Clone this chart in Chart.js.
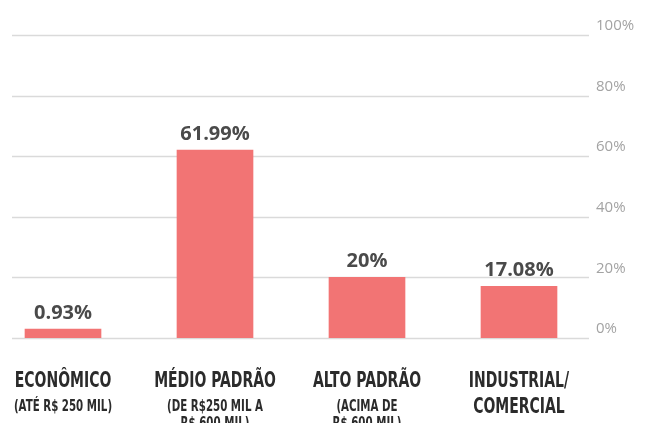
<!DOCTYPE html>
<html>
<head>
<meta charset="utf-8">
<script src="https://cdn.jsdelivr.net/npm/chart.js@4"></script>
<style>
  html, body { margin: 0; padding: 0; background: #fff; overflow: hidden; }
  #wrap { position: absolute; left: -13px; top: 0; width: 659px; height: 423px; }
</style>
</head>
<body>
<div id="wrap"><canvas id="shareChart"></canvas></div>
<script>
const categories = ['ECONÔMICO', 'MÉDIO PADRÃO', 'ALTO PADRÃO', 'INDUSTRIAL/ COMERCIAL'];
const titleLines = [['ECONÔMICO'], ['MÉDIO PADRÃO'], ['ALTO PADRÃO'], ['INDUSTRIAL/', 'COMERCIAL']];
const noteLines = [['(ATÉ R$ 250 MIL)'], ['(DE R$250 MIL A', 'R$ 600 MIL)'], ['(ACIMA DE', 'R$ 600 MIL)'], []];
const shares = [0.93, 61.99, 20, 17.08]; // percent
const tickValues = [0, 20, 40, 60, 80, 100];

const condensed = "'DejaVu Sans Condensed', 'DejaVu Sans', sans-serif";

// grid lines are shorter than the chart area, so they are drawn by hand
const gridLines = {
  id: 'gridLines',
  beforeDatasetsDraw(chart) {
    const { ctx, chartArea, scales } = chart;
    ctx.save();
    ctx.strokeStyle = '#dadada';
    ctx.lineWidth = 1.5;
    tickValues.forEach(v => {
      const y = Math.round(scales.y.getPixelForValue(v)) + 0.5;
      ctx.beginPath();
      ctx.moveTo(chartArea.left + 25, y);
      ctx.lineTo(chartArea.right - 6, y);
      ctx.stroke();
    });
    ctx.restore();
  }
};

const valueLabels = {
  id: 'valueLabels',
  afterDatasetsDraw(chart) {
    const { ctx } = chart;
    const meta = chart.getDatasetMeta(0);
    ctx.save();
    ctx.font = "bold 20px 'Open Sans', sans-serif";
    ctx.fillStyle = '#4a4a4a';
    ctx.textAlign = 'center';
    ctx.textBaseline = 'alphabetic';
    meta.data.forEach((bar, i) => {
      ctx.fillText(shares[i] + '%', bar.x, bar.y - 10);
    });
    ctx.restore();
  }
};

// squeezed text, the source uses a very narrow face
function narrowText(ctx, text, x, y, squeeze) {
  ctx.save();
  ctx.translate(x, y);
  ctx.scale(squeeze, 1);
  ctx.fillText(text, 0, 0);
  ctx.restore();
}

const categoryLabels = {
  id: 'categoryLabels',
  afterDraw(chart) {
    const { ctx, scales } = chart;
    ctx.save();
    ctx.textAlign = 'center';
    ctx.textBaseline = 'middle';
    ctx.fillStyle = '#2b2b2b';
    categories.forEach((c, i) => {
      const x = scales.x.getPixelForValue(i);
      let y = 382;
      ctx.font = 'bold 21px ' + condensed;
      titleLines[i].forEach(t => { narrowText(ctx, t, x, y, 0.74); y += 26; });
      y -= 1;
      ctx.font = 'bold 15px ' + condensed;
      noteLines[i].forEach(t => { narrowText(ctx, t, x, y, 0.76); y += 17; });
    });
    ctx.restore();
  }
};

new Chart(document.getElementById('shareChart'), {
  type: 'bar',
  data: {
    labels: categories,
    datasets: [{
      data: shares,
      backgroundColor: '#f27474',
      barThickness: 76,
      minBarLength: 9
    }]
  },
  options: {
    responsive: true,
    maintainAspectRatio: false,
    animation: false,
    layout: { padding: { top: 35, bottom: 85, left: 0, right: 0 } },
    plugins: {
      legend: { display: false },
      tooltip: { enabled: false }
    },
    scales: {
      x: { display: false },
      y: {
        position: 'right',
        min: 0,
        max: 100,
        afterBuildTicks(scale) { scale.ticks = tickValues.map(v => ({ value: v })); },
        afterFit(scale) { scale.width = 51; },
        grid: { display: false, drawTicks: false },
        border: { display: false },
        ticks: {
          padding: 1,
          labelOffset: -9,
          color: '#a3a3a3',
          font: { family: "'Open Sans', sans-serif", size: 15 },
          callback: v => v + '%'
        }
      }
    }
  },
  plugins: [gridLines, valueLabels, categoryLabels]
});
</script>
</body>
</html>
